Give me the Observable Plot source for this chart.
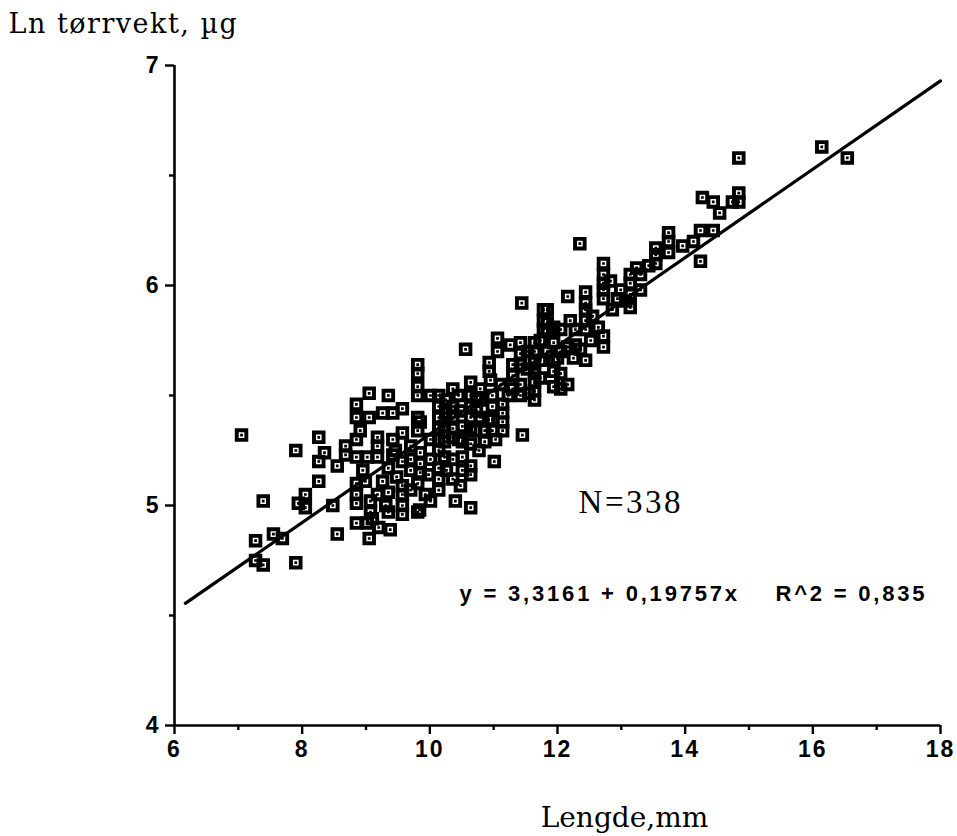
<!DOCTYPE html>
<html><head><meta charset="utf-8">
<script src="https://cdn.jsdelivr.net/npm/d3@7"></script>
<script src="https://cdn.jsdelivr.net/npm/@observablehq/plot@0.6"></script>
<style>
html,body{margin:0;padding:0;background:#fff;}
#chart svg{display:block;}
</style></head>
<body><div id="chart"></div>
<script>
// Data
const lengthMm = [
 7.05,7.39,7.90,8.26,8.35,8.26,8.55,8.68,8.68,8.26,8.05,8.05,7.94,8.48,8.55,7.27,7.55,7.69,7.27,7.39,7.90,
 8.85,8.85,9.02,9.18,9.18,9.18,8.85,8.85,9.05,9.05,9.35,9.26,9.42,9.57,9.57,
 9.81,9.81,9.81,9.81,9.81,9.81,9.35,9.57,9.48,9.26,9.35,9.57,9.57,9.57,9.57,9.81,9.81,9.35,9.07,9.07,
 8.85,8.85,8.85,8.85,9.02,9.20,9.05,9.10,
 9.85,9.85,9.85,9.85,9.84,9.98,
 10.14,10.14,10.14,10.14,10.14,10.14,10.14,10.14,10.14,
 10.36,10.36,10.36,10.36,10.36,10.36,10.36,
 10.56,
 10.64,10.64,10.64,10.64,10.64,10.64,10.64,10.64,10.64,
 10.79,10.86,10.79,10.79,10.86,10.93,10.93,10.95,11.01,11.06,11.06,11.11,
 11.14,11.14,11.14,11.14,11.23,
 11.42,11.42,11.42,11.42,11.42,11.44,11.45,
 11.64,11.64,11.64,11.64,11.64,11.64,11.64,
 11.84,11.84,11.84,
 11.94,11.94,11.94,11.94,11.94,12.00,
 11.78,11.78,11.78,
 12.16,12.16,12.16,12.20,12.25,12.36,12.35,
 12.44,12.44,12.44,12.44,12.44,12.44,12.64,
 12.72,12.72,12.72,12.72,12.72,12.72,12.72,12.94,
 13.14,13.14,13.14,13.14,13.24,13.43,
 13.54,13.54,13.54,13.74,13.74,13.74,13.96,14.13,14.24,14.44,14.24,
 14.27,14.44,14.54,14.74,14.84,14.84,14.84,16.14,16.54,
 9.70,9.70,9.70,10.23,10.23,10.23,10.51,10.51,10.51,10.51,
 10.73,10.73,10.98,10.98,10.98,10.98,11.30,11.30,11.30,
 11.73,11.73,11.55,12.05,12.05,12.55,12.28,12.83,12.99,13.30,13.07,
 9.42,9.42,8.95,9.18,9.38,8.91,10.01,10.01,10.40,10.48,
 10.01,10.25,10.45,10.48,10.25,10.01,10.26,10.45,10.72,10.77,10.92,11.03,
 11.26,11.53,11.53,11.73,11.84,12.05,12.05,12.28,12.52,
 9.46,9.70,9.93,9.31,8.99,12.86,13.30
];
const lnDryWeight = [
 5.32,5.02,5.25,5.31,5.24,5.20,5.18,5.23,5.27,5.11,5.05,4.99,5.01,5.00,4.87,4.84,4.87,4.85,4.75,4.73,4.74,
 5.30,5.22,5.22,5.31,5.27,5.22,5.46,5.40,5.51,5.40,5.50,5.42,5.42,5.44,5.33,
 5.60,5.64,5.54,5.50,5.40,5.34,5.17,5.20,5.13,5.11,5.06,5.09,5.05,5.00,4.96,5.10,4.97,4.97,5.02,4.97,
 5.10,5.05,5.01,4.92,4.92,4.90,4.85,4.94,
 5.38,5.24,5.19,5.15,4.98,5.14,
 5.50,5.45,5.40,5.35,5.30,5.25,5.17,5.07,5.12,
 5.53,5.45,5.35,5.31,5.12,5.40,5.21,
 5.71,
 5.56,5.40,5.35,5.28,5.18,5.14,4.99,5.50,5.45,
 5.53,5.29,5.48,5.40,5.34,5.65,5.61,5.57,5.20,5.76,5.70,5.55,
 5.46,5.42,5.38,5.34,5.50,
 5.74,5.69,5.64,5.55,5.50,5.92,5.32,
 5.74,5.70,5.65,5.60,5.56,5.52,5.48,
 5.89,5.83,5.79,
 5.74,5.66,5.61,5.54,5.81,5.67,
 5.89,5.84,5.80,
 5.95,5.55,5.72,5.84,5.67,5.71,6.19,
 5.97,5.92,5.89,5.84,5.80,5.66,5.81,
 6.10,6.05,6.01,5.98,5.94,5.77,5.72,5.94,
 6.05,6.01,5.96,5.90,6.08,6.09,
 6.17,6.14,6.10,6.24,6.20,6.15,6.18,6.20,6.25,6.25,6.11,
 6.40,6.38,6.33,6.38,6.38,6.42,6.58,6.63,6.58,
 5.27,5.21,5.16,5.36,5.29,5.22,5.36,5.29,5.22,5.16,
 5.49,5.43,5.50,5.45,5.39,5.34,5.64,5.59,5.53,
 5.66,5.58,5.51,5.70,5.60,5.86,5.80,6.02,5.98,6.05,5.93,
 5.30,5.23,5.16,5.05,4.89,5.34,5.30,5.02,5.02,5.09,
 5.50,5.48,5.50,5.43,5.42,5.21,5.16,5.30,5.34,5.25,5.39,5.30,
 5.73,5.70,5.62,5.75,5.70,5.80,5.53,5.73,5.75,
 5.25,5.07,5.05,5.00,5.11,5.89,5.98
];
const xDomain = [6, 18];
const yDomain = [4, 7];
const xMajorTicks = [6, 8, 10, 12, 14, 16, 18];
const xMinorTicks = [7, 9, 11, 13, 15, 17];
const yMajorTicks = [4, 5, 6, 7];
const yMinorTicks = [4.5, 5.5, 6.5];
const fitX = [6.17, 18];
const fitY = [4.555, 6.93];
const yTitle = "Ln tørrvekt, µg";
const xTitle = "Lengde,mm";
const nLabel = "N=338";
const eqLabel = "y = 3,3161 + 0,19757x    R^2 = 0,835";

const points = lengthMm.map((x, i) => ({length: x, lnw: lnDryWeight[i]}));
const fit = fitX.map((x, i) => ({x, y: fitY[i]}));

// black square marker with a white square ring (hole) and black centre
const squareMarker = {
  draw(ctx, size) {
    const s = Math.sqrt(size) / 2;
    ctx.moveTo(-s, -s); ctx.lineTo(s, -s); ctx.lineTo(s, s); ctx.lineTo(-s, s); ctx.closePath();
    const h = s * 0.42;
    ctx.moveTo(-h, -h); ctx.lineTo(-h, h); ctx.lineTo(h, h); ctx.lineTo(h, -h); ctx.closePath();
    const c = s * 0.2;
    ctx.moveTo(-c, -c); ctx.lineTo(c, -c); ctx.lineTo(c, c); ctx.lineTo(-c, c); ctx.closePath();
  }
};

const tickFont = "Liberation Sans Narrow, Liberation Sans, Arial, sans-serif";

const chart = Plot.plot({
  width: 957, height: 836,
  marginLeft: 174, marginRight: 17, marginTop: 65, marginBottom: 111,
  x: {domain: xDomain},
  y: {domain: yDomain},
  style: {background: "white", color: "black", fontFamily: "Liberation Sans, Arial, sans-serif"},
  marks: [
    Plot.ruleY([yDomain[0]], {stroke: "black", strokeWidth: 2.6}),
    Plot.ruleX([xDomain[0]], {stroke: "black", strokeWidth: 2.6}),
    Plot.axisX({ticks: xMinorTicks, tickSize: 5, tickFormat: () => "", label: null, strokeWidth: 2.4}),
    Plot.axisX({ticks: xMajorTicks, tickSize: 9, tickPadding: 6, tickFormat: d => String(d), label: null, strokeWidth: 2.4,
      fontSize: 23, fontWeight: "bold", fontFamily: tickFont}),
    Plot.axisY({ticks: yMinorTicks, tickSize: 5, tickFormat: () => "", label: null, strokeWidth: 2.4}),
    Plot.axisY({ticks: yMajorTicks, tickSize: 9, tickPadding: 7, tickFormat: d => String(d), label: null, strokeWidth: 2.4,
      fontSize: 23, fontWeight: "bold", fontFamily: tickFont}),
    Plot.line(fit, {x: "x", y: "y", stroke: "black", strokeWidth: 3.2}),
    Plot.dot(points, {x: "length", y: "lnw", r: 13.5 / Math.sqrt(Math.PI), symbol: squareMarker, fill: "black", stroke: "none"}),
    Plot.text([nLabel], {x: 12.33, y: 4.968, text: d => d, textAnchor: "start", lineAnchor: "bottom",
      fontFamily: "Liberation Serif, Times New Roman, serif", fontSize: 33}),
    Plot.text([eqLabel], {x: 14.13, y: 4.568, text: d => d, textAnchor: "middle", lineAnchor: "bottom",
      fontFamily: "Liberation Sans, Arial, sans-serif", fontWeight: "bold", fontSize: 22}),
    Plot.text([yTitle], {frameAnchor: "top-left", text: d => d, textAnchor: "start", lineAnchor: "bottom",
      dx: -166, dy: -33, fontFamily: "DejaVu Serif, serif", fontSize: 27}),
    Plot.text([xTitle], {frameAnchor: "bottom", text: d => d, textAnchor: "middle", lineAnchor: "bottom",
      dx: 67, dy: 101, fontFamily: "DejaVu Serif, serif", fontSize: 28})
  ]
});
document.getElementById("chart").appendChild(chart);

// letter spacing applied as inline styles
const spacing = new Map([[eqLabel, "2.8px"], [yTitle, "1.5px"], [nLabel, "2.5px"]]);
d3.select(chart).selectAll("text").each(function() {
  const t = this.textContent;
  if (spacing.has(t)) {
    this.style.letterSpacing = spacing.get(t);
    this.style.whiteSpace = "pre";
    this.setAttribute("xml:space", "preserve");
  } else if (xMajorTicks.map(String).includes(t) && this.closest("g") && /x-axis/.test(this.closest("g").getAttribute("aria-label") || "")) {
    this.style.letterSpacing = "2px";
  }
});
</script>
</body></html>
